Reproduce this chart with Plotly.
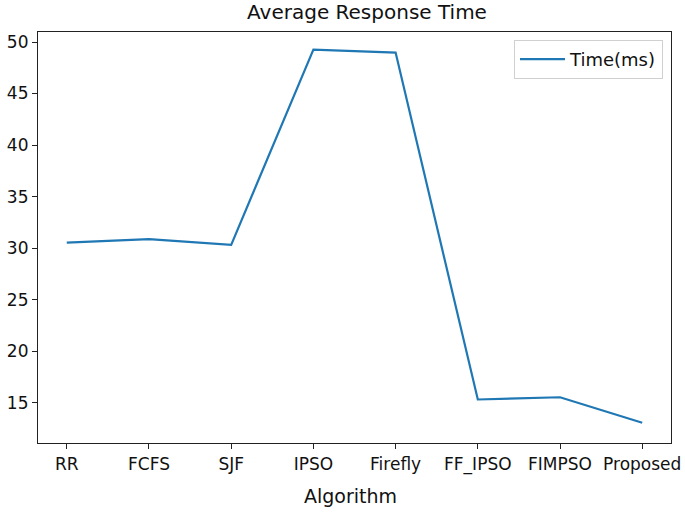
import plotly.graph_objects as go

algorithms = ["RR", "FCFS", "SJF", "IPSO", "Firefly", "FF_IPSO", "FIMPSO", "Proposed"]
time_ms = [30.54, 30.87, 30.32, 49.26, 48.97, 15.32, 15.54, 13.06]
y_ticks = [15, 20, 25, 30, 35, 40, 45, 50]

FONT = "DejaVu Sans"
x_idx = list(range(len(algorithms)))

W, H = 685, 514
L, R, T, B = 38, 14, 32, 71
plot_h = H - T - B
plot_w = W - L - R

fig = go.Figure()
fig.add_trace(go.Scatter(
    x=x_idx, y=time_ms, mode="lines", name="Time(ms)",
    line=dict(color="#1f77b4", width=2.2),
))

fig.update_layout(
    width=W, height=H,
    margin=dict(l=L, r=R, t=T, b=B),
    paper_bgcolor="white", plot_bgcolor="white",
    font=dict(family=FONT, size=17, color="#111"),
    title=dict(text="Average Response Time", x=367 / W, xanchor="center",
               y=1 - 12 / H, yanchor="middle", font=dict(size=20)),
    showlegend=True,
    legend=dict(x=(663 - L) / plot_w, y=1 - (40 - T) / plot_h,
                xanchor="right", yanchor="top", itemwidth=45,
                bgcolor="white", bordercolor="#d0d0d0", borderwidth=1,
                font=dict(size=18)),
    annotations=[dict(text="Algorithm", xref="paper", yref="paper",
                      x=(350 - L) / plot_w, y=-53 / plot_h,
                      xanchor="center", yanchor="middle",
                      showarrow=False, font=dict(size=19))],
)
fig.update_xaxes(
    range=[-0.35, 7.35], tickmode="array", tickvals=x_idx, ticktext=algorithms,
    showline=True, linecolor="#222", linewidth=1.2, mirror=True, automargin=False,
    ticks="outside", ticklen=5, tickcolor="#222", showgrid=False, zeroline=False,
)
fig.update_yaxes(
    range=[11.1, 50.97], tickmode="array", tickvals=y_ticks,
    showline=True, linecolor="#222", linewidth=1.2, mirror=True, automargin=False,
    ticks="outside", ticklen=5, tickcolor="#222", showgrid=False, zeroline=False,
)

fig.write_html("out.html", config={"displayModeBar": False},
               post_script="document.body.style.margin='0';document.body.style.overflow='hidden';")
